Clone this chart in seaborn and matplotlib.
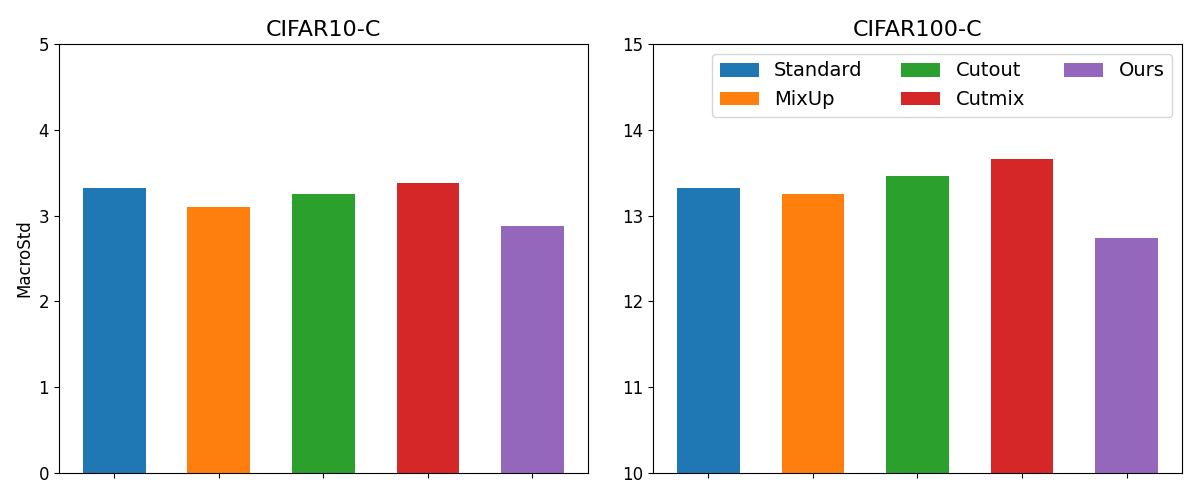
import matplotlib
matplotlib.use('Agg')
import matplotlib.pyplot as plt
import seaborn as sns
import pandas as pd

methods = ['Standard', 'MixUp', 'Cutout', 'Cutmix', 'Ours']
cifar10_std = [3.32, 3.10, 3.25, 3.38, 2.88]
cifar100_std = [13.32, 13.25, 13.46, 13.66, 12.74]
colors = ['#1f77b4', '#ff7f0e', '#2ca02c', '#d62728', '#9467bd']

df10 = pd.DataFrame({'method': methods, 'std': cifar10_std})
df100 = pd.DataFrame({'method': methods, 'std': cifar100_std})

fig, axes = plt.subplots(1, 2, figsize=(12, 5), dpi=100)
fig.subplots_adjust(left=0.049, right=0.985, bottom=0.054, top=0.912, wspace=0.123)

sns.barplot(data=df10, x='method', y='std', hue='method', palette=colors,
            width=0.6, saturation=1, legend=False, ax=axes[0])
axes[0].set_ylim(0, 5)
axes[0].set_title('CIFAR10-C', fontsize=16)
axes[0].set_ylabel('MacroStd', fontsize=12)

sns.barplot(data=df100, x='method', y='std', hue='method', palette=colors,
            width=0.6, saturation=1, legend=True, ax=axes[1])
axes[1].set_ylim(10, 15)
axes[1].set_title('CIFAR100-C', fontsize=16)
axes[1].set_ylabel('')
axes[1].legend(ncol=3, fontsize=14, loc='upper right')

for ax in axes:
    ax.set_xlabel('')
    ax.set_xticks(range(len(methods)))
    ax.set_xticklabels([''] * len(methods))
    ax.set_xlim(-0.53, len(methods) - 0.47)
    ax.tick_params(axis='y', labelsize=12)

fig.savefig('out.png', dpi=100)
